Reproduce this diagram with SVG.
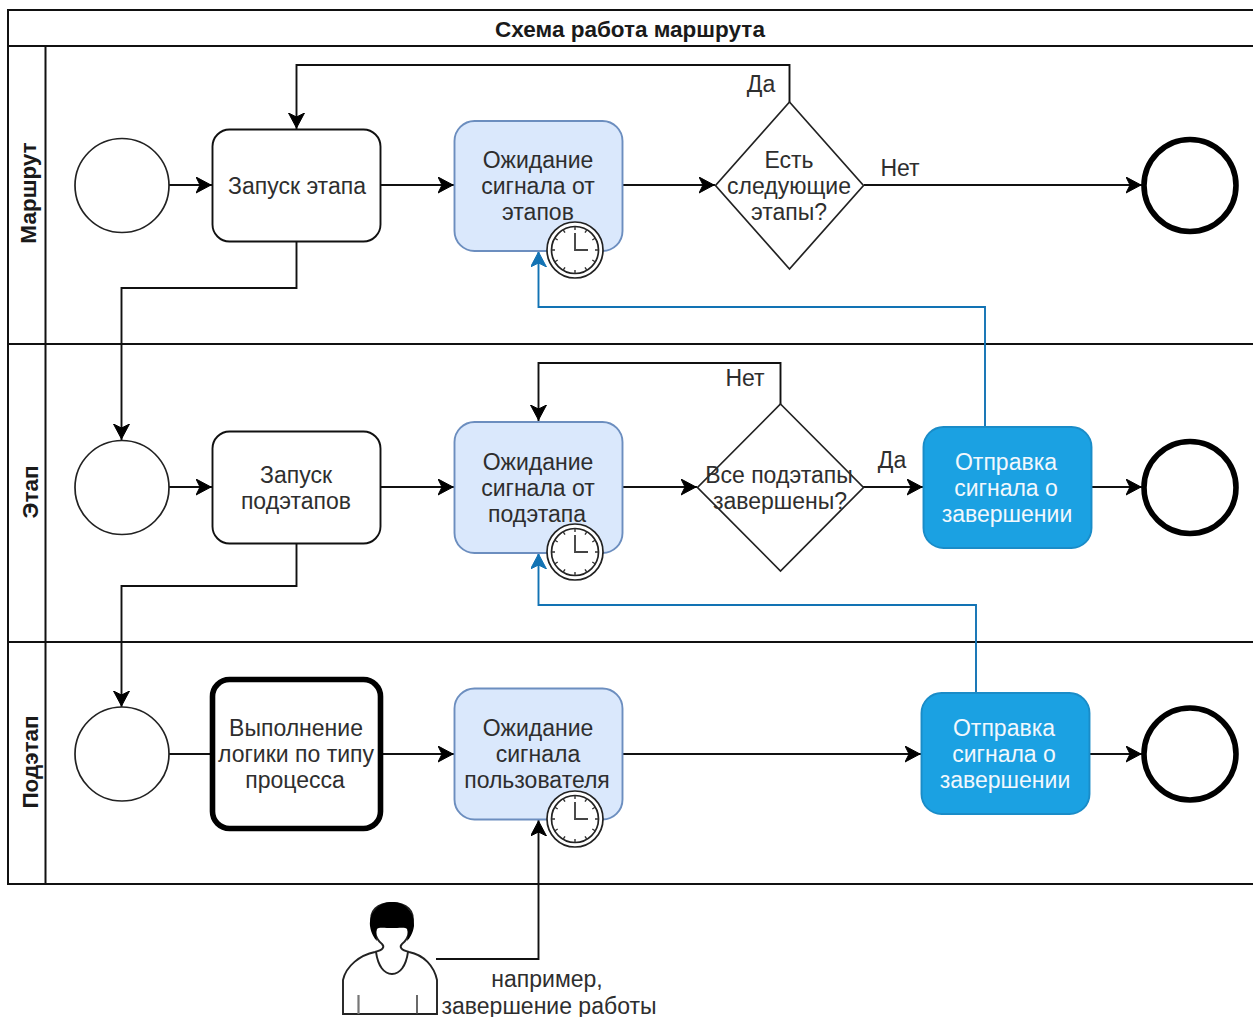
<svg xmlns="http://www.w3.org/2000/svg" width="1253" height="1017" viewBox="0 0 1253 1017">
<style>
text{font-family:"Liberation Sans",Arial,sans-serif;font-size:23px;fill:#2e2e2e;text-anchor:middle}
.b{font-weight:bold;font-size:22.500px;fill:#1a1a1a}
.w{fill:#f2f8fd}
.lane{fill:none;stroke:#111;stroke-width:2}
.c{fill:none;stroke:#111;stroke-width:1.9}
.cb{fill:none;stroke:#1273b4;stroke-width:1.9}
.ev{fill:#fff;stroke:#222;stroke-width:1.7}
.end{fill:#fff;stroke:#000;stroke-width:5.6}
.t{fill:#fff;stroke:#111;stroke-width:1.9}
.wait{fill:#dae8fc;stroke:#6c8ebf;stroke-width:1.9}
.send{fill:#1ba1e2;stroke:#1a8cc8;stroke-width:1.9}
.d{fill:#fff;stroke:#222;stroke-width:1.7}
</style>
<defs>
<marker id="a" markerUnits="userSpaceOnUse" markerWidth="20" markerHeight="18" refX="16" refY="8" orient="auto"><path d="M0 0L15 8L0 16L4 8Z" fill="#000" stroke="#000"/></marker>
<marker id="ab" markerUnits="userSpaceOnUse" markerWidth="20" markerHeight="18" refX="16" refY="8" orient="auto"><path d="M0 0L15 8L0 16L4 8Z" fill="#1273b4" stroke="#1273b4"/></marker>
<g id="clock">
<circle r="28" fill="#fff" stroke="#222" stroke-width="1.7"/>
<circle r="23.500" fill="#fff" stroke="#222" stroke-width="1.7"/>
<path d="M0-23.500V-20M12-20.400L10-17.300M20.400-12L17.300-10M23.500 0H20M20.400 12L17.300 10M12 20.400L10 17.300M0 23.500V20M-12 20.400L-10 17.300M-20.400 12L-17.300 10M-23.500 0H-20M-20.400-12L-17.300-10M-12-20.400L-10-17.300" stroke="#333" stroke-width="1.400" fill="none"/>
<path d="M0-17V0H13" stroke="#444" stroke-width="1.900" fill="none"/>
</g>
</defs>
<rect width="1253" height="1017" fill="#fff"/>
<g id="pool">
<path class="lane" d="M1254 10H8V884H1254M8 46H1254M8 344H1254M8 642H1254M45.500 46V884"/>
<text class="b" x="630" y="37">Схема работа маршрута</text>
<text class="b" transform="translate(36 193) rotate(-90)">Маршрут</text>
<text class="b" transform="translate(38 492) rotate(-90)">Этап</text>
<text class="b" transform="translate(38 762) rotate(-90)">Подэтап</text>
</g>
<g id="connectors">
<path class="c" marker-end="url(#a)" d="M169 185H212"/>
<path class="c" marker-end="url(#a)" d="M380 185H454"/>
<path class="c" marker-end="url(#a)" d="M622 185H715"/>
<path class="c" marker-end="url(#a)" d="M864 185H1142"/>
<path class="c" marker-end="url(#a)" d="M789.500 102V65H296.500V129"/>
<path class="c" marker-end="url(#a)" d="M296.500 242V288H121.500V440"/>
<path class="cb" marker-end="url(#ab)" d="M985 427V307H538.500V251"/>
<path class="c" marker-end="url(#a)" d="M169 487H212"/>
<path class="c" marker-end="url(#a)" d="M380 487H454"/>
<path class="c" marker-end="url(#a)" d="M622 487H697"/>
<path class="c" marker-end="url(#a)" d="M863 487H923"/>
<path class="c" marker-end="url(#a)" d="M1091 487H1142"/>
<path class="c" marker-end="url(#a)" d="M780.500 404V363H538.500V421"/>
<path class="c" marker-end="url(#a)" d="M296.500 544V586H121.500V707"/>
<path class="cb" marker-end="url(#ab)" d="M976 693V605H538.500V553"/>
<path class="c" d="M169 754H212"/>
<path class="c" marker-end="url(#a)" d="M381 754H454"/>
<path class="c" marker-end="url(#a)" d="M622 754H921"/>
<path class="c" marker-end="url(#a)" d="M1089 754H1142"/>
<path class="c" marker-end="url(#a)" d="M436 959H538.500V820"/>
<text x="761" y="92">Да</text>
<text x="900" y="176">Нет</text>
<text x="745" y="386">Нет</text>
<text x="892" y="468">Да</text>
<text x="547" y="987">например,</text>
<text x="549" y="1013.500">завершение работы</text>
</g>
<g id="start1"><circle class="ev" cx="122" cy="185.500" r="47"/></g>
<g id="task1"><rect class="t" x="212.500" y="129.500" width="168" height="112" rx="17"/><text x="297" y="194">Запуск этапа</text></g>
<g id="wait1"><rect class="wait" x="454.500" y="121" width="168" height="130" rx="20"/><text x="538" y="168">Ожидание</text><text x="538" y="194">сигнала от</text><text x="538" y="220">этапов</text><use href="#clock" x="575" y="250"/></g>
<g id="dec1"><path class="d" d="M789.500 102L863.500 185.500L789.500 269L715.500 185.500Z"/><text x="789" y="168">Есть</text><text x="789" y="194">следующие</text><text x="789" y="220">этапы?</text></g>
<g id="end1"><circle class="end" cx="1190" cy="185.500" r="46"/></g>
<g id="start2"><circle class="ev" cx="122" cy="487.500" r="47"/></g>
<g id="task2"><rect class="t" x="212.500" y="431.500" width="168" height="112" rx="17"/><text x="296" y="483">Запуск</text><text x="296" y="509">подэтапов</text></g>
<g id="wait2"><rect class="wait" x="454.500" y="422" width="168" height="131" rx="20"/><text x="538" y="470">Ожидание</text><text x="538" y="496">сигнала от</text><text x="537" y="522">подэтапа</text><use href="#clock" x="575" y="552"/></g>
<g id="dec2"><path class="d" d="M780.500 404L863.500 487.500L780.500 571L697.500 487.500Z"/><text x="779" y="483">Все подэтапы</text><text x="780" y="509">завершены?</text></g>
<g id="send2"><rect class="send" x="923.500" y="427" width="168" height="121" rx="20"/><text class="w" x="1006" y="470">Отправка</text><text class="w" x="1006" y="496">сигнала о</text><text class="w" x="1007" y="522">завершении</text></g>
<g id="end2"><circle class="end" cx="1190" cy="487.500" r="46"/></g>
<g id="start3"><circle class="ev" cx="122" cy="754" r="47"/></g>
<g id="task3"><rect x="212.500" y="679.500" width="168" height="149" rx="17" fill="#fff" stroke="#000" stroke-width="5.600"/><text x="296" y="736">Выполнение</text><text x="296" y="762">логики по типу</text><text x="295" y="788">процесса</text></g>
<g id="wait3"><rect class="wait" x="454.500" y="688.500" width="168" height="131" rx="20"/><text x="538" y="736">Ожидание</text><text x="538" y="762">сигнала</text><text x="537" y="788">пользователя</text><use href="#clock" x="575" y="819"/></g>
<g id="send3"><rect class="send" x="921.500" y="693" width="168" height="121" rx="20"/><text class="w" x="1004" y="736">Отправка</text><text class="w" x="1004" y="762">сигнала о</text><text class="w" x="1005" y="788">завершении</text></g>
<g id="end3"><circle class="end" cx="1190" cy="754" r="46"/></g>
<g id="user">
<path d="M343 1014V980C346 966 360 955 375 952C383 950 385 947 382 944C378 941 376 938 375 932L372 925C368 910 378 903 392 903C406 903 416 910 412 925L409 932C408 938 406 941 402 944C399 947 401 950 409 952C424 955 434 966 437 980V1014Z" fill="#fff" stroke="#222" stroke-width="1.900"/>
<path d="M392 902C379 902 369 912 370 926C371 933 374 938 377 941C376 936 376 933 377 929C378 927 385 928 392 928C399 928 406 927 407 929C408 933 408 936 407 941C410 938 413 933 414 926C415 912 405 902 392 902Z" fill="#000"/>
<path d="M376 952C378 966 384 974 392 974C400 974 406 966 408 952" fill="none" stroke="#222" stroke-width="1.900"/>
<path d="M358.500 995V1014" stroke="#777" stroke-width="2.200" fill="none"/>
<path d="M417 995V1014" stroke="#444" stroke-width="1.600" fill="none"/>
</g>
</svg>
